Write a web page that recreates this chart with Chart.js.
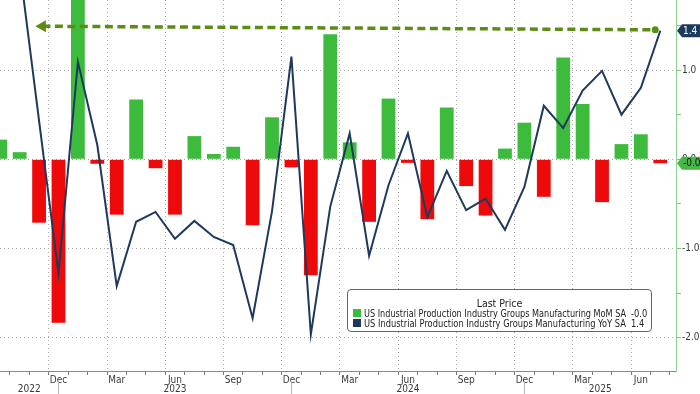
<!DOCTYPE html>
<html>
<head>
<meta charset="utf-8">
<title>US Industrial Production - Manufacturing</title>
<script src="https://cdn.jsdelivr.net/npm/chart.js@4.4.1/dist/chart.umd.min.js"></script>
<style>
  html, body { margin:0; padding:0; background:#fff; overflow:hidden; }
  #wrap { position:relative; width:700px; height:394px; }
  #legend {
    position:absolute; left:347px; top:289px; width:305px; height:43px;
    box-sizing:border-box; border:1px solid #666; border-radius:4px; background:#fff;
    font-family:'Liberation Sans Narrow','DejaVu Sans Condensed','Liberation Sans',sans-serif;
    font-size:10.5px; line-height:10px; color:#222;
  }
  #legend .ttl { position:absolute; left:0; right:0; top:8px; text-align:center; }
  #legend .row { position:absolute; left:5px; right:4px; height:10px; white-space:nowrap; }
  #legend .sw { position:absolute; left:0; top:1px; width:8px; height:8px; }
  #legend .lbl { position:absolute; left:11px; top:0; transform-origin:0 50%; }
  #legend .val { position:absolute; left:278px; top:0; transform-origin:0 50%; }
</style>
</head>
<body>
<div id="wrap">
  <canvas id="chart" width="700" height="394"></canvas>
  <div id="legend">
    <div class="ttl">Last Price</div>
    <div class="row" style="top:18px"><span class="sw" style="background:#3dbb3d"></span><span class="lbl">US Industrial Production Industry Groups Manufacturing MoM SA</span><span class="val" id="v-mom"></span></div>
    <div class="row" style="top:28px"><span class="sw" style="background:#1d3a5e"></span><span class="lbl">US Industrial Production Industry Groups Manufacturing YoY SA</span><span class="val" id="v-yoy"></span></div>
  </div>
</div>

<script>
// --- DATA (monthly, Sep 2022 .. Jul 2025) ---
const months = ['Sep 2022','Oct 2022','Nov 2022','Dec 2022','Jan 2023','Feb 2023','Mar 2023','Apr 2023',
  'May 2023','Jun 2023','Jul 2023','Aug 2023','Sep 2023','Oct 2023','Nov 2023','Dec 2023','Jan 2024',
  'Feb 2024','Mar 2024','Apr 2024','May 2024','Jun 2024','Jul 2024','Aug 2024','Sep 2024','Oct 2024',
  'Nov 2024','Dec 2024','Jan 2025','Feb 2025','Mar 2025','Apr 2025','May 2025','Jun 2025','Jul 2025'];

// MoM SA (bars)
const mom = [0.22, 0.08, -0.71, -1.83, 1.95, -0.05, -0.62, 0.67, -0.10, -0.62, 0.26, 0.06, 0.14, -0.74,
  0.47, -0.09, -1.30, 1.40, 0.19, -0.70, 0.68, -0.04, -0.67, 0.58, -0.30, -0.63, 0.12, 0.41, -0.42,
  1.14, 0.62, -0.48, 0.17, 0.28, -0.045];

// YoY SA (line)
const yoy = [3.3, 2.15, 0.43, -1.28, 1.09, 0.16, -1.42, -0.70, -0.59, -0.89, -0.69, -0.87, -0.96, -1.78,
  -0.58, 1.15, -1.96, -0.53, 0.29, -1.08, -0.29, 0.29, -0.65, -0.13, -0.57, -0.44, -0.79, -0.31, 0.60,
  0.35, 0.77, 0.99, 0.50, 0.80, 1.44];

// dashed arrow annotation (month index, value)
const arrowX = [2.17, 33.74];
const arrowY = [1.49, 1.45];

const yTicks = [-2, -1.5, -1, -0.5, 0, 0.5, 1, 1.5];
const years = ['2022', '2023', '2024', '2025'];
const yearBreaks = [3, 15, 27];   // Dec ticks

// --- STYLE ---
const FONT = "'Liberation Sans Narrow', 'DejaVu Sans Condensed', 'Liberation Sans', sans-serif";
const GREEN = '#3dbb3d', RED = '#ee0a0a', NAVY = '#1d3a5e', OLIVE = '#5b8c13';
const GRID = '#a8a8a8', TXT = '#3a3a3a';

const last = months.length - 1;
document.getElementById('v-mom').textContent = mom[last].toFixed(1);
document.getElementById('v-yoy').textContent = yoy[last].toFixed(1);

// squeeze legend labels to the narrow width of the original font
document.querySelectorAll('#legend .lbl').forEach(el => {
  const w = el.getBoundingClientRect().width;
  if (w > 262) el.style.transform = 'scaleX(' + (262 / w).toFixed(3) + ')';
});
document.querySelectorAll('#legend .val').forEach(el => {
  el.style.transform = 'scaleX(0.88)';
});

function tag(ctx, yc, bg, fg, text) {
  ctx.beginPath();
  ctx.moveTo(677, yc);
  ctx.lineTo(682, yc - 6.5);
  ctx.lineTo(700, yc - 6.5);
  ctx.lineTo(700, yc + 6.5);
  ctx.lineTo(682, yc + 6.5);
  ctx.closePath();
  ctx.fillStyle = bg;
  ctx.fill();
  ctx.fillStyle = fg;
  ctx.textAlign = 'left';
  ctx.textBaseline = 'middle';
  ctx.fillText(text, 683, yc + 0.5);
}

const extras = {
  id: 'extras',
  afterDraw(chart) {
    const { ctx, scales: { x, y } } = chart;
    ctx.save();
    ctx.font = '10px ' + FONT;
    // year separators + labels
    ctx.strokeStyle = '#b5b5b5';
    ctx.lineWidth = 1;
    yearBreaks.forEach(b => {
      const px = Math.round(x.getPixelForValue(b)) + 0.5;
      ctx.beginPath(); ctx.moveTo(px, 381); ctx.lineTo(px, 394); ctx.stroke();
    });
    ctx.fillStyle = TXT;
    ctx.textAlign = 'center';
    ctx.textBaseline = 'middle';
    years.forEach((yr, i) => {
      const a = i === 0 ? x.left : x.getPixelForValue(yearBreaks[i - 1]);
      const b = i < yearBreaks.length ? x.getPixelForValue(yearBreaks[i]) : x.right;
      ctx.fillText(yr, (a + b) / 2, 389);
    });
    // last value badges
    tag(ctx, y.getPixelForValue(yoy[last]), NAVY, '#fff', yoy[last].toFixed(1));
    tag(ctx, y.getPixelForValue(mom[last]), '#45b845', '#111', mom[last].toFixed(1));
    ctx.restore();
  }
};

function noPad(s) {
  s.paddingLeft = 0; s.paddingRight = 0; s.paddingTop = 0; s.paddingBottom = 0;
}

new Chart(document.getElementById('chart'), {
  type: 'bar',
  data: {
    datasets: [
      {
        type: 'line', label: 'arrow',
        data: arrowX.map((v, i) => ({ x: v, y: arrowY[i] })),
        borderColor: OLIVE, borderWidth: 3.5, borderDash: [8, 4.5],
        pointStyle: ['triangle', 'circle'], pointRadius: [7, 3.5], pointRotation: [270, 0],
        pointBackgroundColor: OLIVE, pointBorderColor: OLIVE, pointBorderWidth: 0,
        order: 1
      },
      {
        type: 'line', label: 'YoY',
        data: months.map((m, i) => ({ x: i, y: yoy[i] })),
        borderColor: NAVY, borderWidth: 2, pointRadius: 0, tension: 0,
        order: 2
      },
      {
        type: 'bar', label: 'MoM',
        data: months.map((m, i) => ({ x: i, y: mom[i] })),
        backgroundColor: mom.map(v => v >= 0 ? GREEN : RED),
        barPercentage: 0.71, categoryPercentage: 1,
        order: 3
      }
    ]
  },
  options: {
    responsive: false,
    animation: false,
    devicePixelRatio: 1,
    events: [],
    layout: { padding: 0, autoPadding: false },
    plugins: { legend: { display: false }, tooltip: { enabled: false } },
    scales: {
      x: {
        type: 'linear', min: -0.013, max: 34.81, offset: false,
        afterBuildTicks: s => { s.ticks = months.map((m, i) => ({ value: i })); },
        afterFit: s => { s.height = 23; noPad(s); },
        grid: {
          color: c => (c.tick && c.tick.value % 3 === 0) ? GRID : 'rgba(0,0,0,0)',
          tickColor: '#777', tickLength: 4
        },
        border: { color: '#8a8a8a', width: 1, dash: [1, 3] },
        ticks: {
          autoSkip: false, maxRotation: 0, padding: 0, color: TXT,
          font: { family: FONT, size: 10, lineHeight: 1 },
          callback: v => (v > 0 && v % 3 === 0 ? months[v].slice(0, 3) : '')
        }
      },
      y: {
        position: 'right', min: -2.371, max: 1.784,
        afterBuildTicks: s => { s.ticks = yTicks.map(v => ({ value: v })); },
        afterFit: s => { s.width = 24; noPad(s); },
        grid: {
          color: c => (c.tick && Number.isInteger(c.tick.value)) ? GRID : 'rgba(0,0,0,0)',
          tickColor: '#7cc47c', tickLength: 5
        },
        border: { color: '#8fcc8f', width: 1, dash: [1, 3] },
        ticks: {
          padding: 1, crossAlign: 'near', color: TXT,
          font: { family: FONT, size: 10 },
          callback: v => (Number.isInteger(v) ? v.toFixed(1) : '')
        }
      }
    }
  },
  plugins: [extras]
});
</script>
</body>
</html>
